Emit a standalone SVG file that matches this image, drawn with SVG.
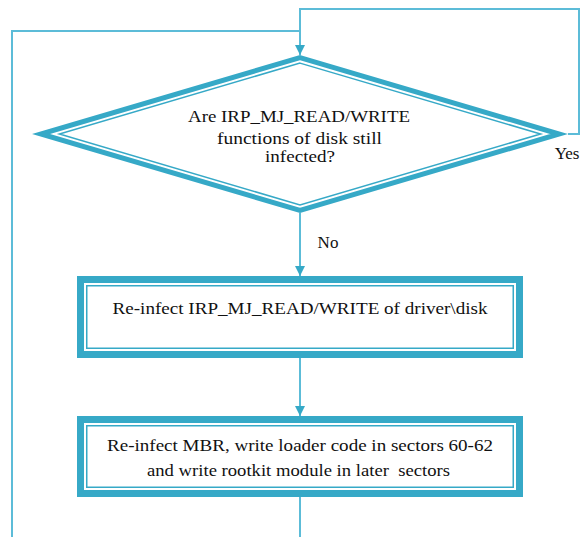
<svg xmlns="http://www.w3.org/2000/svg" width="581" height="537" viewBox="0 0 581 537">
<style>
text{font-family:'Liberation Serif','Times New Roman',serif;font-size:17px;fill:#111;text-anchor:middle}
.band{fill:#fff;stroke:#36a9c7;stroke-width:5;stroke-miterlimit:10;stroke-linejoin:miter}
.bandr{fill:#fff;stroke:#36a9c7;stroke-width:7;stroke-linejoin:miter}
.thin{fill:none;stroke:#36a9c7;stroke-width:1.5;stroke-miterlimit:10}
.c{fill:none;stroke:#5cbcd8;stroke-width:2}
</style>
<defs>
<marker id="ah" markerUnits="userSpaceOnUse" markerWidth="12" markerHeight="10" refX="10" refY="5" orient="auto">
<path d="M0,0 L10,5 L0,10 Z" fill="#36a9c7"/>
</marker>
</defs>
<g id="connectors">
<path class="c" d="M568,134 H579 V9 H300 V55" marker-end="url(#ah)"/>
<path class="c" d="M12,537 V31 H300"/>
<path class="c" d="M300,213 V276" marker-end="url(#ah)"/>
<path class="c" d="M300,358 V416" marker-end="url(#ah)"/>
<path class="c" d="M300,497 V537"/>
</g>
<g id="decision">
<polygon class="band" points="300,57.6 559.1,134 300,210.4 40.9,134"/>
<polygon class="thin" points="300,63.1 540.6,134 300,204.9 59.4,134"/>
<text x="299" y="122" textLength="222" lengthAdjust="spacingAndGlyphs">Are IRP_MJ_READ/WRITE</text>
<text x="299.5" y="144" textLength="165" lengthAdjust="spacingAndGlyphs">functions of disk still</text>
<text x="300" y="162" textLength="70" lengthAdjust="spacingAndGlyphs">infected?</text>
</g>
<g id="label-yes"><text x="567" y="159">Yes</text></g>
<g id="label-no"><text x="328" y="248">No</text></g>
<g id="reinfect-irp">
<rect class="bandr" x="80.5" y="279.5" width="439" height="75"/>
<rect class="thin" x="86.75" y="285.75" width="426.5" height="62.5"/>
<text x="300" y="314" textLength="375" lengthAdjust="spacingAndGlyphs">Re-infect IRP_MJ_READ/WRITE of driver\disk</text>
</g>
<g id="reinfect-mbr">
<rect class="bandr" x="80.5" y="419.5" width="439" height="74"/>
<rect class="thin" x="86.75" y="425.75" width="426.5" height="61.5"/>
<text x="300" y="451" textLength="386" lengthAdjust="spacingAndGlyphs">Re-infect MBR, write loader code in sectors 60-62</text>
<text x="298.5" y="476" textLength="303" lengthAdjust="spacingAndGlyphs" xml:space="preserve">and write rootkit module in later  sectors</text>
</g>
</svg>
